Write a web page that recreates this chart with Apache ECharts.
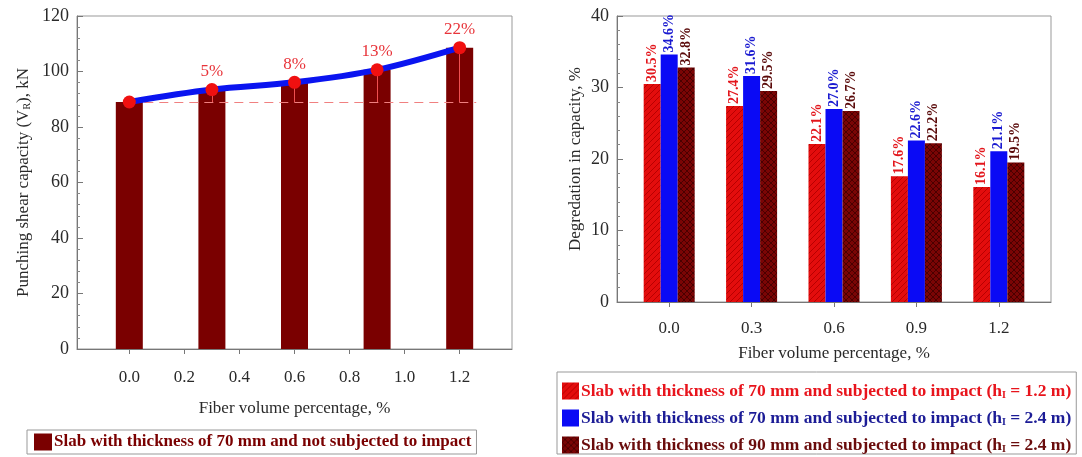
<!DOCTYPE html>
<html>
<head>
<meta charset="utf-8">
<script src="https://cdn.jsdelivr.net/npm/echarts@6/dist/echarts.min.js"></script>
<style>
  html, body { margin: 0; padding: 0; background: #fff; }
  #chart { width: 1082px; height: 457px; }
</style>
</head>
<body>
<div id="chart"></div>
<script>
// Fiber volume fractions (%) shared by both panels
const fiberPct = [0.0, 0.3, 0.6, 0.9, 1.2];

// Left panel: punching shear capacity of the 70 mm slab without impact (kN)
const capacityKN = [89.0, 93.5, 96.1, 100.6, 108.6];
const increaseLabels = ['', '5%', '8%', '13%', '22%'];
const baseCapacity = 89.0;

// Tick positions on the fiber axes
const leftTicks = [0, 0.2, 0.4, 0.6, 0.8, 1.0, 1.2];
const rightTicks = [0, 0.3, 0.6, 0.9, 1.2];

// Right panel: degradation in capacity (%)
const degr70Low = [30.5, 27.4, 22.1, 17.6, 16.1];
const degr70High = [34.6, 31.6, 27.0, 22.6, 21.1];
const degr90High = [32.8, 29.5, 26.7, 22.2, 19.5];

const NAME_NO_IMPACT = 'Slab with thickness of 70 mm and not subjected to impact';
const NAME_70_12 = 'Slab with thickness of 70 mm and subjected to impact (h_I = 1.2 m)';
const NAME_70_24 = 'Slab with thickness of 70 mm and subjected to impact (h_I = 2.4 m)';
const NAME_90_24 = 'Slab with thickness of 90 mm and subjected to impact (h_I = 2.4 m)';

const SERIF = '"Liberation Serif", "Times New Roman", serif';
const pairs = arr => fiberPct.map((x, i) => [x, arr[i]]);

// Hatched fills for the impact bars
function hatch(bg, fg, cross) {
  const c = document.createElement('canvas');
  c.width = 6; c.height = 6;
  const g = c.getContext('2d');
  g.fillStyle = bg; g.fillRect(0, 0, 6, 6);
  g.strokeStyle = fg; g.lineWidth = 1;
  g.beginPath();
  g.moveTo(0, 6); g.lineTo(6, 0);
  g.moveTo(-3, 3); g.lineTo(3, -3);
  g.moveTo(3, 9); g.lineTo(9, 3);
  if (cross) {
    g.moveTo(0, 0); g.lineTo(6, 6);
    g.moveTo(-3, 3); g.lineTo(3, 9);
    g.moveTo(3, -3); g.lineTo(9, 3);
  }
  g.stroke();
  return { image: c, repeat: 'repeat' };
}
const redFill = hatch('#e30d0d', '#b80000', false);
const darkFill = hatch('#7a0505', '#4a0000', true);

function valueAxisY(gridIndex, max, interval, name, nameGap) {
  return {
    type: 'value', gridIndex, min: 0, max, interval,
    name, nameLocation: 'middle', nameGap,
    nameTextStyle: {
      fontFamily: SERIF, fontSize: 17, color: '#2a2a2a',
      rich: { sub: { fontFamily: SERIF, fontSize: 10, color: '#2a2a2a', verticalAlign: 'bottom', padding: [6, 0, 0, 0] } }
    },
    axisLine: { show: true, onZero: false, lineStyle: { color: '#777', width: 1 } },
    axisTick: { show: true, inside: true, length: 6, lineStyle: { color: '#777' } },
    minorTick: { show: true, splitNumber: 5, length: 3, lineStyle: { color: '#888' } },
    splitLine: { show: false },
    axisLabel: { fontFamily: SERIF, fontSize: 18, color: '#2a2a2a', margin: 8 }
  };
}

function fiberAxisX(gridIndex, ticks, labelMargin, nameGap) {
  return {
    type: 'value', gridIndex, min: -0.19, max: 1.39,
    name: 'Fiber volume percentage, %', nameLocation: 'middle', nameGap,
    nameTextStyle: { fontFamily: SERIF, fontSize: 17, color: '#2a2a2a' },
    axisLine: { show: true, onZero: false, lineStyle: { color: '#777', width: 1 } },
    axisTick: { show: true, inside: false, length: 5, customValues: ticks, lineStyle: { color: '#777' } },
    axisLabel: {
      customValues: ticks, margin: labelMargin,
      fontFamily: SERIF, fontSize: 17, color: '#2a2a2a',
      formatter: v => Number(v).toFixed(1)
    },
    splitLine: { show: false }
  };
}

function pctLabel(color) {
  return {
    show: true, position: 'top', rotate: 90, align: 'left', verticalAlign: 'middle',
    distance: 2, fontFamily: SERIF, fontWeight: 'bold', fontSize: 14, color,
    formatter: p => p.value[1].toFixed(1) + '%'
  };
}

const legendRich = {
  sub: { fontFamily: SERIF, fontWeight: 'bold', fontSize: 10, verticalAlign: 'bottom', padding: [7, 0, 0, 0] }
};
const legendFormatter = name => name.replace('h_I', 'h{sub|I}');

const option = {
  animation: false,
  backgroundColor: '#fff',
  grid: [
    { left: 77, top: 16, width: 435, height: 333, show: true, borderColor: '#999', borderWidth: 1 },
    { left: 617, top: 16, width: 434, height: 286, show: true, borderColor: '#999', borderWidth: 1 }
  ],
  xAxis: [
    fiberAxisX(0, leftTicks, 20, 51),
    fiberAxisX(1, rightTicks, 18, 43)
  ],
  yAxis: [
    valueAxisY(0, 120, 20, 'Punching shear capacity (V{sub|R}), kN', 45),
    valueAxisY(1, 40, 10, 'Degredation in capacity, %', 33)
  ],
  legend: [
    {
      data: [NAME_NO_IMPACT],
      left: 27, top: 430,
      icon: 'rect', itemWidth: 18, itemHeight: 17,
      padding: [3, 5, 3, 7],
      borderColor: '#999', borderWidth: 1, backgroundColor: '#fff',
      selectedMode: false,
      textStyle: { fontFamily: SERIF, fontWeight: 'bold', fontSize: 17, lineHeight: 18, color: '#7a0000', padding: [0, 0, 0, -3] }
    },
    {
      data: [
        { name: NAME_70_12, textStyle: { color: '#e8141c' } },
        { name: NAME_70_24, textStyle: { color: '#1c1c96' } },
        { name: NAME_90_24, textStyle: { color: '#6a0c0c' } }
      ],
      left: 557, top: 372, orient: 'vertical', itemGap: 9,
      icon: 'rect', itemWidth: 17, itemHeight: 17,
      padding: [10, 5, 0, 5],
      borderColor: '#999', borderWidth: 1, backgroundColor: '#fff',
      selectedMode: false,
      formatter: legendFormatter,
      textStyle: { fontFamily: SERIF, fontWeight: 'bold', fontSize: 17.5, lineHeight: 18, padding: [0, 0, 0, -3], rich: legendRich }
    }
  ],
  series: [
    {
      name: NAME_NO_IMPACT, type: 'bar', xAxisIndex: 0, yAxisIndex: 0,
      data: pairs(capacityKN), barWidth: 27,
      itemStyle: { color: '#7a0000' }
    },
    {
      name: 'trend', type: 'line', xAxisIndex: 0, yAxisIndex: 0,
      data: pairs(capacityKN), smooth: 0.35, z: 5,
      lineStyle: { color: '#0a14f0', width: 6 },
      symbol: 'circle', symbolSize: 13,
      itemStyle: { color: '#f01010' },
      label: {
        show: true, position: 'top', distance: 3,
        fontFamily: SERIF, fontSize: 17, color: '#e8343a',
        formatter: p => increaseLabels[p.dataIndex]
      },
      markLine: {
        silent: true, symbol: 'none', z: 3,
        label: { show: false },
        lineStyle: { color: '#f05050', width: 1, type: 'solid' },
        data: [
          [
            { coord: [0, baseCapacity], lineStyle: { type: [9, 6], color: '#f08080', width: 1.2 } },
            { coord: [1.26, baseCapacity] }
          ],
          ...fiberPct.slice(1).map((x, i) => [
            { coord: [x, capacityKN[i + 1]] },
            { coord: [x, baseCapacity] }
          ])
        ]
      }
    },
    {
      name: NAME_70_12, type: 'bar', xAxisIndex: 1, yAxisIndex: 1,
      data: pairs(degr70Low), barWidth: 17, barGap: '0%',
      itemStyle: { color: redFill },
      label: pctLabel('#e3161c')
    },
    {
      name: NAME_70_24, type: 'bar', xAxisIndex: 1, yAxisIndex: 1,
      data: pairs(degr70High), barWidth: 17, barGap: '0%',
      itemStyle: { color: '#0a0af5' },
      label: pctLabel('#1a1ad0')
    },
    {
      name: NAME_90_24, type: 'bar', xAxisIndex: 1, yAxisIndex: 1,
      data: pairs(degr90High), barWidth: 17, barGap: '0%',
      itemStyle: { color: darkFill },
      label: pctLabel('#5a0a0a')
    }
  ]
};

const chart = echarts.init(document.getElementById('chart'), null, { renderer: 'canvas' });
chart.setOption(option);
</script>
</body>
</html>
